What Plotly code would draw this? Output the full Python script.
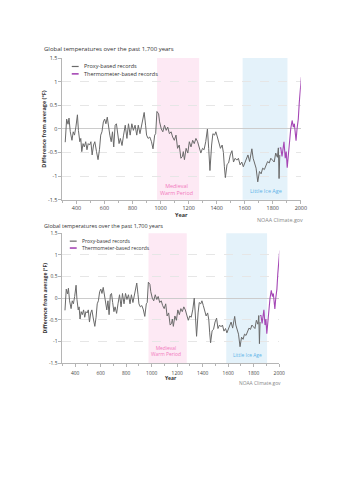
import plotly.graph_objects as go

W, H = 354, 500

# ---------------- data ----------------
proxy_years = [320, 330, 340, 347, 356, 368, 377, 386, 396, 407, 414, 424, 431, 438, 447, 456, 466, 475, 484, 494,
               503, 512, 522, 531, 543, 554, 564, 573, 582, 592, 601, 610, 620, 629, 638, 648, 657, 666, 676, 685,
               694, 704, 713, 725, 736, 748, 760, 771, 783, 795, 806, 818, 830, 841, 853, 865, 876, 883, 893, 900,
               911, 923, 935, 946, 958, 965, 974, 986, 993, 1005, 1016, 1028, 1040, 1051, 1063, 1075, 1086, 1098,
               1110, 1121, 1133, 1145, 1156, 1162, 1170, 1182, 1194, 1205, 1217, 1229, 1240, 1252, 1264, 1275,
               1287, 1299, 1310, 1322, 1334, 1343, 1352, 1364, 1373, 1385, 1394, 1405, 1415, 1427, 1439, 1448,
               1455, 1462, 1474, 1485, 1497, 1509, 1520, 1532, 1544, 1555, 1567, 1579, 1590, 1600, 1611, 1623,
               1635, 1646, 1651, 1660, 1670, 1681, 1693, 1705, 1717, 1728, 1740, 1751, 1763, 1775, 1786, 1798,
               1810, 1821, 1833, 1840, 1845, 1850]
proxy_values = [-0.28, 0.21, 0.10, 0.23, -0.06, -0.24, -0.06, -0.13, 0.04, 0.30, -0.03, -0.27, -0.20, -0.48, -0.31,
                -0.38, -0.27, -0.44, -0.31, -0.34, -0.27, -0.55, -0.34, -0.27, -0.48, -0.65, -0.44, -0.13, -0.06,
                0.15, 0.21, 0.11, 0.25, 0.04, -0.13, -0.27, -0.06, -0.38, 0.08, 0.11, -0.10, -0.31, -0.20, -0.35,
                -0.13, 0.08, -0.20, 0.11, -0.13, 0.11, -0.03, 0.08, -0.13, 0.08, -0.10, 0.11, 0.25, 0.35, 0.08,
                -0.13, -0.20, -0.17, -0.27, -0.42, -0.13, -0.10, 0.37, 0.32, 0.15, 0.00, -0.06, 0.08, -0.03, 0.04,
                -0.10, -0.06, -0.17, -0.24, -0.13, -0.41, -0.34, -0.62, -0.58, -0.48, -0.65, -0.41, -0.51, -0.27,
                -0.38, -0.24, -0.31, -0.20, -0.27, -0.38, -0.51, -0.41, -0.44, -0.27, 0.00, -0.41, -0.88, -0.34,
                -0.10, -0.13, -0.06, -0.17, -0.27, -0.41, -0.34, -0.50, -0.80, -1.03, -0.75, -0.72, -0.55, -0.46,
                -0.70, -0.62, -0.66, -0.62, -0.76, -0.70, -0.80, -0.72, -0.65, -0.55, -0.69, -0.51, -0.42, -0.62,
                -0.72, -0.83, -1.12, -0.90, -0.95, -0.83, -0.86, -0.76, -0.69, -0.72, -0.62, -0.66, -0.70, -0.51,
                -0.60, -0.40, -1.05, -0.55]

thermo_years = [1850, 1857, 1866, 1873, 1880, 1889, 1896, 1903, 1912, 1919, 1928, 1938, 1947, 1954, 1961, 1966,
                1973, 1982, 1989, 1996, 2004]
thermo_values = [-0.40, -0.40, -0.58, -0.34, -0.27, -0.62, -0.48, -0.82, -0.50, -0.22, 0.00, 0.18, 0.04, 0.11,
                 -0.08, -0.25, 0.00, 0.21, 0.56, 0.84, 1.10]

series_names = ["Proxy-based records", "Thermometer-based records"]
period_names = ["Medieval<br>Warm Period", "Little Ice Age"]
period_starts = [975, 1585]
period_ends = [1275, 1905]

x_ticks = [400, 600, 800, 1000, 1200, 1400, 1600, 1800, 2000]
x_ticklabels = ["400", "600", "800", "1000", "1200", "1400", "1600", "1800", "2000"]
y_ticks = [1.5, 1, 0.5, 0, -0.5, -1, -1.5]
y_ticklabels = ["1.5", "1", "0.5", "0", "-0.5", "-1", "-1.5"]

title_text = "Global temperatures over the past 1,700 years"
ytitle_text = "Difference from average (°F)"
xtitle_text = "Year"
credit_text = "NOAA Climate.gov"

# ---------------- styles ----------------
FONT = "Open Sans"
GRAY = "#6a6a6a"
PURPLE = "#a547b5"
PINK_BAND = "#fde9f4"
BLUE_BAND = "#e4f2fa"
PINK_TXT = "#f279bd"
BLUE_TXT = "#5eb3e8"
band_fill = [PINK_BAND, BLUE_BAND]
band_txt = [PINK_TXT, BLUE_TXT]


def px(x):
    return x / W


def py(y):
    return 1 - y / H


charts = [
    dict(sx="", xd=(63.5, 306), yd=(55, 199), fs=6.0, ty=45.5, leg_x=(73, 80, 83), leg_y=(63.5, 71),
         lab_y=[-1.28, -1.31], xt_y=214, cr=(310, 220), lbl_off=0),
    dict(sx="2", xd=(63.5, 284), yd=(233, 365), fs=5.5, ty=226, leg_x=(71, 78, 81), leg_y=(241, 248),
         lab_y=[-1.22, -1.32], xt_y=380, cr=(288, 385), lbl_off=2),
]

fig = go.Figure()
shapes = []
annotations = []

for c in charts:
    s = c["sx"]
    xa, ya = "x" + s, "y" + s
    fs = c["fs"]
    fig.add_trace(go.Scatter(x=proxy_years, y=proxy_values, mode="lines", name=series_names[0],
                             line=dict(color=GRAY, width=1), xaxis=xa, yaxis=ya, showlegend=False))
    fig.add_trace(go.Scatter(x=thermo_years, y=thermo_values, mode="lines", name=series_names[1],
                             line=dict(color=PURPLE, width=1.1), xaxis=xa, yaxis=ya, showlegend=False))
    common_axis = dict(showline=True, linecolor="#b5b5b5", linewidth=1, ticks="outside", ticklen=3,
                       tickcolor="#b5b5b5", tickfont=dict(family=FONT, size=fs - 0.6, color="#444"))
    xaxis = dict(domain=[px(c["xd"][0]), px(c["xd"][1])], range=[300, 2000], anchor=ya,
                 tickvals=x_ticks, ticktext=x_ticklabels, showgrid=False, zeroline=False,
                 ticklabelstandoff=c["lbl_off"],
                 minor=dict(dtick=100, tick0=0, ticks="outside", ticklen=2, tickcolor="#b5b5b5", showgrid=False),
                 **common_axis)
    yaxis = dict(domain=[py(c["yd"][1]), py(c["yd"][0])], range=[-1.5, 1.5], anchor=xa,
                 tickvals=y_ticks, ticktext=y_ticklabels, showgrid=True, gridcolor="#e6e6e6",
                 griddash="dash", gridwidth=0.8, zeroline=True, zerolinecolor="#cccccc", zerolinewidth=1.4,
                 title=dict(text="<b>" + ytitle_text + "</b>", font=dict(family=FONT, size=fs - 0.5, color="#333"),
                            standoff=1),
                 **common_axis)
    fig.update_layout(**{"xaxis" + s: xaxis, "yaxis" + s: yaxis})

    for i in range(2):
        shapes.append(dict(type="rect", xref=xa, yref=ya + " domain", x0=period_starts[i], x1=period_ends[i],
                           y0=0, y1=1, fillcolor=band_fill[i], line=dict(width=0), layer="below"))
        annotations.append(dict(x=(period_starts[i] + period_ends[i]) / 2 - (10 if i == 0 else -5),
                                y=c["lab_y"][i], xref=xa, yref=ya,
                                text=period_names[i], showarrow=False,
                                font=dict(family=FONT, size=fs - 0.6, color=band_txt[i])))

    annotations.append(dict(x=px(43), y=py(c["ty"]), xref="paper", yref="paper", xanchor="left",
                            yanchor="middle", text=title_text, showarrow=False,
                            font=dict(family=FONT, size=fs, color="#333")))
    annotations.append(dict(x=px((c["xd"][0] + c["xd"][1]) / 2), y=py(c["xt_y"]), xref="paper", yref="paper",
                            xanchor="center", yanchor="middle", text="<b>" + xtitle_text + "</b>",
                            showarrow=False, font=dict(family=FONT, size=fs - 0.5, color="#333")))
    annotations.append(dict(x=px(c["cr"][0]), y=py(c["cr"][1]), xref="paper", yref="paper",
                            xanchor="right", yanchor="middle", text=credit_text, showarrow=False,
                            font=dict(family=FONT, size=fs - 0.6, color="#888")))
    for j, col in enumerate([GRAY, PURPLE]):
        yy = py(c["leg_y"][j])
        shapes.append(dict(type="line", xref="paper", yref="paper", x0=px(c["leg_x"][0]),
                           x1=px(c["leg_x"][1]), y0=yy, y1=yy, line=dict(color=col, width=1.2 if j == 0 else 1.6)))
        annotations.append(dict(x=px(c["leg_x"][2]), y=yy, xref="paper", yref="paper", xanchor="left",
                                yanchor="middle", text=series_names[j], showarrow=False,
                                font=dict(family=FONT, size=fs - 0.5, color="#333")))

fig.update_layout(width=W, height=H, margin=dict(l=0, r=0, t=0, b=0), paper_bgcolor="white",
                  plot_bgcolor="white", shapes=shapes, annotations=annotations, showlegend=False,
                  font=dict(family=FONT))

fig.write_html("out.html", include_plotlyjs=True, config={"displayModeBar": False})
